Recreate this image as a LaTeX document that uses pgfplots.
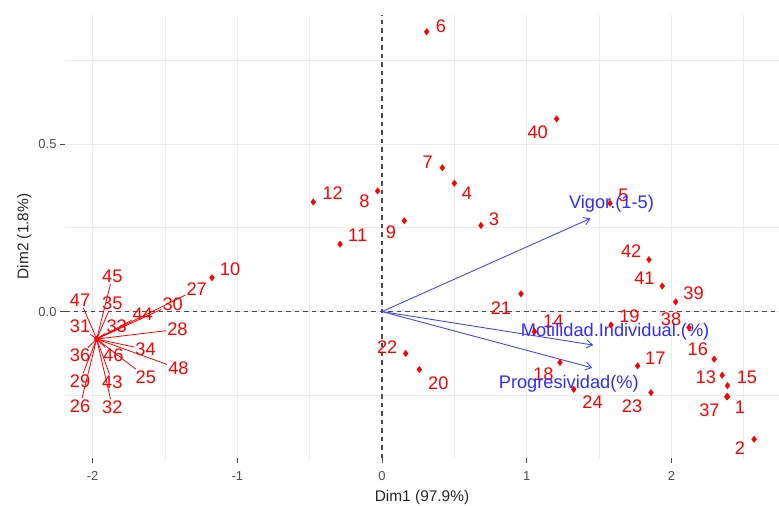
\documentclass[border=0pt]{standalone}
\usepackage{fontspec}
\setmainfont{Liberation Sans}
\usepackage{pgfplots}
\pgfplotsset{compat=1.18}
\usetikzlibrary{arrows.meta}
\definecolor{gridc}{RGB}{235,235,235}
\definecolor{tickc}{RGB}{77,77,77}
\definecolor{varblue}{RGB}{70,70,255}
\definecolor{txtblue}{RGB}{45,45,255}
\definecolor{ptred}{RGB}{255,0,0}
\tikzset{lab/.style={text=ptred, font=\fontsize{18.3}{20}\selectfont, inner sep=1bp, anchor=center},
         vlab/.style={text=txtblue, font=\fontsize{18.3}{20}\selectfont, inner sep=0bp, anchor=center}}
\newcommand{\lb}[3]{\node[lab] at (axis cs:#1,#2) {#3};}
\newcommand{\cl}[3]{\node[lab, name=n#3] at (axis cs:#1,#2) {#3};
  \draw[ptred, line width=0.8bp] (axis cs:-1.972,-0.082) -- (n#3);}
\begin{document}
\begin{tikzpicture}
\path[use as bounding box] (-65bp,-48bp) rectangle (714bp,458bp);
\begin{axis}[
  at={(0,0)}, anchor=south west,
  scale only axis, width=714bp, height=443bp,
  xmin=-2.191, xmax=2.744, ymin=-0.437, ymax=0.885,
  xtick={-2,-1,0,1,2}, ytick={0,0.5},
  minor xtick={-1.5,-0.5,0.5,1.5,2.5}, minor ytick={-0.25,0.25,0.75},
  grid=both,
  major grid style={gridc, line width=1bp},
  minor grid style={gridc, line width=0.7bp},
  axis line style={draw=none},
  tick pos=left, tick align=outside,
  major tick length=5bp, minor tick length=0pt,
  tick style={tickc, line width=1bp},
  /pgf/number format/assume math mode=true,
  ticklabel style={font=\fontsize{13}{15}\selectfont, text=tickc},
  yticklabel style={/pgf/number format/.cd, fixed, fixed zerofill, precision=1},
  xticklabel style={yshift=-5bp, /pgf/number format/.cd, fixed, precision=0},
  xlabel={Dim1 (97.9\%)}, ylabel={Dim2 (1.8\%)},
  label style={font=\fontsize{15.5}{17}\selectfont, text=black!85},
  xlabel style={at={(axis description cs:0.5,-0.090)}, anchor=center},
  ylabel style={at={(axis description cs:-0.057,0.5)}, anchor=center},
  clip=false,
]
% reference lines
\addplot[black!70, line width=1.4bp, dash pattern=on 4.5bp off 4bp, forget plot] coordinates {(0,-0.437) (0,0.885)};
\addplot[black!70, line width=1.4bp, dash pattern=on 4.5bp off 4bp, forget plot] coordinates {(-2.191,0) (2.744,0)};
% variable arrows
\addplot[varblue, line width=0.9bp, -{Straight Barb[length=6bp,width=8bp]}] coordinates {(0,0) (1.441,0.278)};
\addplot[varblue, line width=0.9bp, -{Straight Barb[length=6bp,width=8bp]}] coordinates {(0,0) (1.460,-0.100)};
\addplot[varblue, line width=0.9bp, -{Straight Barb[length=6bp,width=8bp]}] coordinates {(0,0) (1.453,-0.168)};
% cluster labels with segments
\cl{-1.864}{0.104}{45}
\cl{-2.087}{0.034}{47}
\cl{-1.864}{0.026}{35}
\cl{-2.087}{-0.045}{31}
\cl{-1.834}{-0.043}{33}
\cl{-1.654}{-0.008}{44}
\cl{-1.447}{0.022}{30}
\cl{-1.281}{0.066}{27}
\cl{-1.414}{-0.053}{28}
\cl{-1.634}{-0.113}{34}
\cl{-1.857}{-0.130}{46}
\cl{-2.087}{-0.130}{36}
\cl{-1.407}{-0.170}{48}
\cl{-1.632}{-0.195}{25}
\cl{-2.087}{-0.207}{29}
\cl{-1.864}{-0.210}{43}
\cl{-2.087}{-0.282}{26}
\cl{-1.864}{-0.284}{32}
% individuals
\addplot[only marks, mark=diamond*, mark size=3.2bp, ptred, draw=ptred] table {
x y
2.388 -0.254
2.572 -0.381
0.684 0.257
0.500 0.383
1.576 0.323
0.309 0.835
0.417 0.429
-0.030 0.360
0.154 0.271
-1.175 0.101
-0.290 0.201
-0.475 0.327
2.351 -0.190
1.054 -0.060
2.388 -0.221
2.296 -0.142
1.767 -0.162
1.230 -0.152
1.583 -0.040
0.258 -0.173
0.961 0.053
0.164 -0.125
1.859 -0.242
1.325 -0.232
-1.972 -0.082
2.383 -0.254
2.122 -0.048
2.030 0.029
1.207 0.575
1.937 0.076
1.845 0.155
};
% labels of individuals
\lb{2.474}{-0.284}{1}
\lb{2.474}{-0.407}{2}
\lb{0.773}{0.276}{3}
\lb{0.587}{0.353}{4}
\lb{1.668}{0.348}{5}
\lb{0.408}{0.852}{6}
\lb{0.316}{0.445}{7}
\lb{-0.122}{0.330}{8}
\lb{0.062}{0.238}{9}
\lb{-1.050}{0.126}{10}
\lb{-0.168}{0.228}{11}
\lb{-0.341}{0.353}{12}
\lb{2.238}{-0.195}{13}
\lb{1.184}{-0.030}{14}
\lb{2.522}{-0.195}{15}
\lb{2.183}{-0.113}{16}
\lb{1.889}{-0.138}{17}
\lb{1.116}{-0.187}{18}
\lb{1.710}{-0.013}{19}
\lb{0.389}{-0.214}{20}
\lb{0.822}{0.010}{21}
\lb{0.036}{-0.105}{22}
\lb{1.728}{-0.281}{23}
\lb{1.455}{-0.269}{24}
\lb{2.263}{-0.294}{37}
\lb{1.998}{-0.023}{38}
\lb{2.153}{0.054}{39}
\lb{1.076}{0.534}{40}
\lb{1.814}{0.099}{41}
\lb{1.722}{0.179}{42}
% variable labels
\node[vlab] at (axis cs:1.586,0.323) {Vigor.(1-5)};
\node[vlab] at (axis cs:1.611,-0.060) {Motilidad.Individual.(\%)};
\node[vlab] at (axis cs:1.291,-0.217) {Progresividad(\%)};
\end{axis}
\end{tikzpicture}
\end{document}
